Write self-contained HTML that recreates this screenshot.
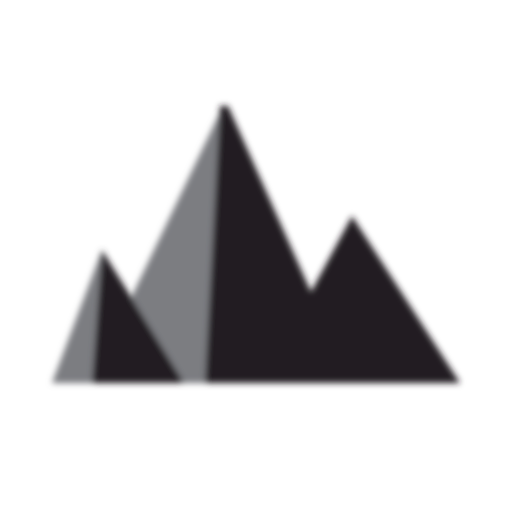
<!DOCTYPE html>
<html><head><meta charset="utf-8"><style>html,body{margin:0;padding:0;background:#fff}svg{display:block}</style></head>
<body>
<svg width="512" height="512" viewBox="0 0 512 512">
<defs><filter id="b"><feGaussianBlur stdDeviation="3.2"/></filter></defs>
<g filter="url(#b)">
<polygon points="223,106 205,383 150,383 130,300" fill="#7c7d81"/>
<polygon points="102,250 92,383 52,383" fill="#7c7d81"/>
<polygon points="102,250 184,383 92,383" fill="#231f20"/>
<polygon points="220,106 228,106 311,292 352,216 460,383 205,383" fill="#231f20"/>
</g>
</svg>
</body></html>
